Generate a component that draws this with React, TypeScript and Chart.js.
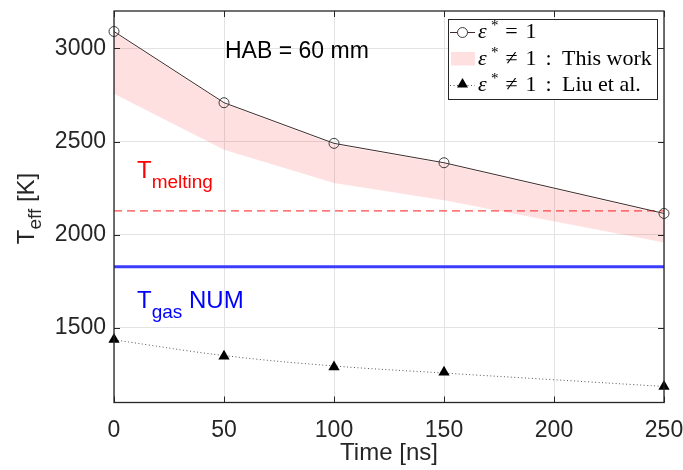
import React, { useEffect, useRef } from "react";
import { Chart, registerables } from "chart.js";

Chart.register(...registerables);

// ---- data ----
const times = [0, 50, 100, 150, 250];
const epsOneValues = [3090, 2708, 2490, 2386, 2114];
const bandUpper = [3085, 2702, 2484, 2380, 2108];
const bandLower = [2756, 2456, 2277, 2185, 1958];
const liuTimes = [0, 50, 100, 150, 250];
const liuValues = [1438, 1348, 1290, 1262, 1186];
const fitTimes = [0, 50, 100, 150, 200, 250];
const fitValues = [1436, 1352, 1296, 1258, 1222, 1186];
const meltingT = 2128;
const gasT = 1828;
const xTicks = [0, 50, 100, 150, 200, 250];
const yTicks = [1500, 2000, 2500, 3000];
const xRange = [0, 250];
const yRange = [1100, 3200];

const SANS = "'Liberation Sans', Arial, Helvetica, sans-serif";
const SERIF = "'Liberation Serif', 'DejaVu Serif', serif";
const AXIS_COLOR = "#262626";

type Part = { t: string; font: string; dy?: number; color?: string };

function richWidth(ctx: CanvasRenderingContext2D, parts: Part[]) {
  let w = 0;
  for (const p of parts) {
    ctx.font = p.font;
    w += ctx.measureText(p.t).width;
  }
  return w;
}

function drawRich(ctx: CanvasRenderingContext2D, x: number, y: number, parts: Part[], color: string) {
  let cx = x;
  for (const p of parts) {
    ctx.font = p.font;
    ctx.fillStyle = p.color ?? color;
    ctx.fillText(p.t, cx, y + (p.dy ?? 0));
    cx += ctx.measureText(p.t).width;
  }
}

function legendRow(ctx: CanvasRenderingContext2D, base: number, rel: string, tail: string | null) {
  const fs = 22;
  ctx.fillStyle = "#000";
  ctx.textAlign = "left";
  ctx.font = `italic ${fs}px ${SERIF}`;
  ctx.fillText("ε", 478, base);
  ctx.font = `${fs - 7}px ${SERIF}`;
  ctx.fillText("*", 491, base - 8);
  ctx.font = `${fs}px ${SERIF}`;
  ctx.textAlign = "center";
  ctx.fillText(rel, 511.5, base);
  ctx.fillText("1", 531, base);
  if (tail) {
    ctx.fillText(":", 548.5, base);
    ctx.textAlign = "left";
    ctx.fillText(tail, 562, base);
  }
  ctx.textAlign = "left";
}

const decor = {
  id: "decor",
  afterDraw(chart: any) {
    const { ctx, chartArea: a, scales } = chart;
    const x = scales.x;
    const y = scales.y;
    ctx.save();
    ctx.textAlign = "left";
    ctx.textBaseline = "alphabetic";

    // inward ticks
    ctx.strokeStyle = AXIS_COLOR;
    ctx.lineWidth = 1;
    const tl = 6;
    ctx.beginPath();
    for (const v of xTicks) {
      const px = Math.round(x.getPixelForValue(v)) + 0.5;
      ctx.moveTo(px, a.bottom);
      ctx.lineTo(px, a.bottom - tl);
      ctx.moveTo(px, a.top);
      ctx.lineTo(px, a.top + tl);
    }
    for (const v of yTicks) {
      const py = Math.round(y.getPixelForValue(v)) + 0.5;
      ctx.moveTo(a.left, py);
      ctx.lineTo(a.left + tl, py);
      ctx.moveTo(a.right, py);
      ctx.lineTo(a.right - tl, py);
    }
    ctx.stroke();

    // box
    ctx.lineWidth = 1.3;
    ctx.strokeRect(a.left, a.top, a.right - a.left, a.bottom - a.top);

    // annotations
    ctx.fillStyle = "#000";
    ctx.font = `23px ${SANS}`;
    ctx.fillText("HAB = 60 mm", 225, 58);

    drawRich(ctx, 137, 178, [
      { t: "T", font: `24px ${SANS}` },
      { t: "melting", font: `19px ${SANS}`, dy: 10 },
    ], "#ff0000");

    drawRich(ctx, 137, 308, [
      { t: "T", font: `24px ${SANS}` },
      { t: "gas", font: `19px ${SANS}`, dy: 10 },
      { t: " NUM", font: `24px ${SANS}` },
    ], "#0000ff");

    // x title
    ctx.font = `24px ${SANS}`;
    ctx.fillStyle = AXIS_COLOR;
    const xt = "Time [ns]";
    const xtw = ctx.measureText(xt).width;
    ctx.fillText(xt, (a.left + a.right) / 2 - xtw / 2, 460);

    // y title
    ctx.save();
    ctx.translate(34, 208.5);
    ctx.rotate(-Math.PI / 2);
    const yParts: Part[] = [
      { t: "T", font: `24px ${SANS}` },
      { t: "eff", font: `19px ${SANS}`, dy: 7 },
      { t: " [K]", font: `24px ${SANS}` },
    ];
    const yw = richWidth(ctx, yParts);
    drawRich(ctx, -yw / 2, 0, yParts, AXIS_COLOR);
    ctx.restore();

    // legend
    const lx = 448, ly = 19, lw = 209, lh = 80;
    ctx.fillStyle = "#fff";
    ctx.fillRect(lx, ly, lw, lh);
    ctx.strokeStyle = AXIS_COLOR;
    ctx.lineWidth = 1;
    ctx.strokeRect(lx + 0.5, ly + 0.5, lw, lh);

    // row 1 symbol
    ctx.strokeStyle = "#402a2a";
    ctx.lineWidth = 1;
    ctx.beginPath();
    ctx.moveTo(450, 32.5);
    ctx.lineTo(475, 32.5);
    ctx.stroke();
    ctx.fillStyle = "#fff";
    ctx.strokeStyle = "#3c3c3c";
    ctx.beginPath();
    ctx.arc(462.5, 32.5, 5, 0, Math.PI * 2);
    ctx.fill();
    ctx.stroke();

    // row 2 symbol
    ctx.fillStyle = "rgba(255,0,0,0.12)";
    ctx.fillRect(451, 52, 24, 13.5);

    // row 3 symbol
    ctx.strokeStyle = "#555";
    ctx.setLineDash([1, 2.5]);
    ctx.beginPath();
    ctx.moveTo(450, 85.5);
    ctx.lineTo(475, 85.5);
    ctx.stroke();
    ctx.setLineDash([]);
    ctx.fillStyle = "#000";
    ctx.beginPath();
    ctx.moveTo(462.5, 78);
    ctx.lineTo(468, 87.5);
    ctx.lineTo(457, 87.5);
    ctx.closePath();
    ctx.fill();

    legendRow(ctx, 38, "=", null);
    legendRow(ctx, 64.5, "≠", "This work");
    legendRow(ctx, 91, "≠", "Liu et al.");

    ctx.restore();
  },
};

const pts = (xs: number[], ys: number[]) => xs.map((v, i) => ({ x: v, y: ys[i] }));

export default function App() {
  const ref = useRef<HTMLCanvasElement>(null);

  useEffect(() => {
    const canvas = ref.current;
    if (!canvas) return;
    const chart = new Chart(canvas, {
      type: "line",
      data: {
        datasets: [
          {
            label: "band lower",
            data: pts(times, bandLower),
            borderWidth: 0,
            pointRadius: 0,
            fill: false,
            order: 20,
          },
          {
            label: "ε* ≠ 1 : This work",
            data: pts(times, bandUpper),
            borderWidth: 0,
            pointRadius: 0,
            fill: "-1",
            backgroundColor: "rgba(255,0,0,0.12)",
            order: 19,
          },
          {
            label: "T melting",
            data: pts(xRange, [meltingT, meltingT]),
            borderColor: "rgba(255,40,40,0.85)",
            borderWidth: 1.2,
            borderDash: [8, 5],
            pointRadius: 0,
            fill: false,
            order: 5,
          },
          {
            label: "T gas NUM",
            data: pts(xRange, [gasT, gasT]),
            borderColor: "rgb(60,60,255)",
            borderWidth: 3,
            pointRadius: 0,
            fill: false,
            order: 4,
          },
          {
            label: "fit",
            data: pts(fitTimes, fitValues),
            borderColor: "#555",
            borderWidth: 1,
            borderDash: [1, 2.5],
            tension: 0.4,
            pointRadius: 0,
            fill: false,
            order: 3,
          },
          {
            label: "ε* = 1",
            data: pts(times, epsOneValues),
            borderColor: "#402a2a",
            borderWidth: 1,
            pointStyle: "circle",
            pointRadius: 5,
            pointBorderWidth: 1,
            pointBorderColor: "#3c3c3c",
            pointBackgroundColor: "rgba(0,0,0,0)",
            fill: false,
            clip: false,
            order: 2,
          },
          {
            label: "ε* ≠ 1 : Liu et al.",
            data: pts(liuTimes, liuValues),
            showLine: false,
            pointStyle: "triangle",
            pointRadius: 6.5,
            pointBorderWidth: 0,
            pointBackgroundColor: "#000",
            pointBorderColor: "#000",
            fill: false,
            clip: false,
            order: 1,
          },
        ] as any,
      },
      options: {
        responsive: false,
        animation: false,
        events: [],
        layout: { padding: { top: 11, right: 19, left: 0, bottom: 0 } },
        plugins: {
          legend: { display: false },
          tooltip: { enabled: false },
        },
        scales: {
          x: {
            type: "linear",
            min: xRange[0],
            max: xRange[1],
            afterBuildTicks: (s: any) => {
              s.ticks = xTicks.map((v) => ({ value: v }));
            },
            afterFit: (s: any) => {
              s.height = 67.5;
              s.paddingLeft = 0;
              s.paddingRight = 0;
            },
            ticks: {
              color: AXIS_COLOR,
              font: { family: SANS, size: 23 },
              padding: 14,
              maxRotation: 0,
              autoSkip: false,
              callback: (v: any) => String(v),
            },
            grid: { color: "#e3e3e3", lineWidth: 1, drawTicks: false },
            border: { display: false },
          },
          y: {
            type: "linear",
            min: yRange[0],
            max: yRange[1],
            afterBuildTicks: (s: any) => {
              s.ticks = yTicks.map((v) => ({ value: v }));
            },
            afterFit: (s: any) => {
              s.width = 114;
              s.paddingTop = 0;
              s.paddingBottom = 0;
            },
            ticks: {
              color: AXIS_COLOR,
              font: { family: SANS, size: 23 },
              padding: 8,
              autoSkip: false,
              callback: (v: any) => String(v),
            },
            grid: { color: "#e3e3e3", lineWidth: 1, drawTicks: false },
            border: { display: false },
          },
        },
      } as any,
      plugins: [decor],
    });
    return () => chart.destroy();
  }, []);

  return (
    <div style={{ position: "absolute", left: 0, top: 0, width: 683, height: 470 }}>
      <canvas ref={ref} width={683} height={470} style={{ width: 683, height: 470, display: "block" }} />
    </div>
  );
}
